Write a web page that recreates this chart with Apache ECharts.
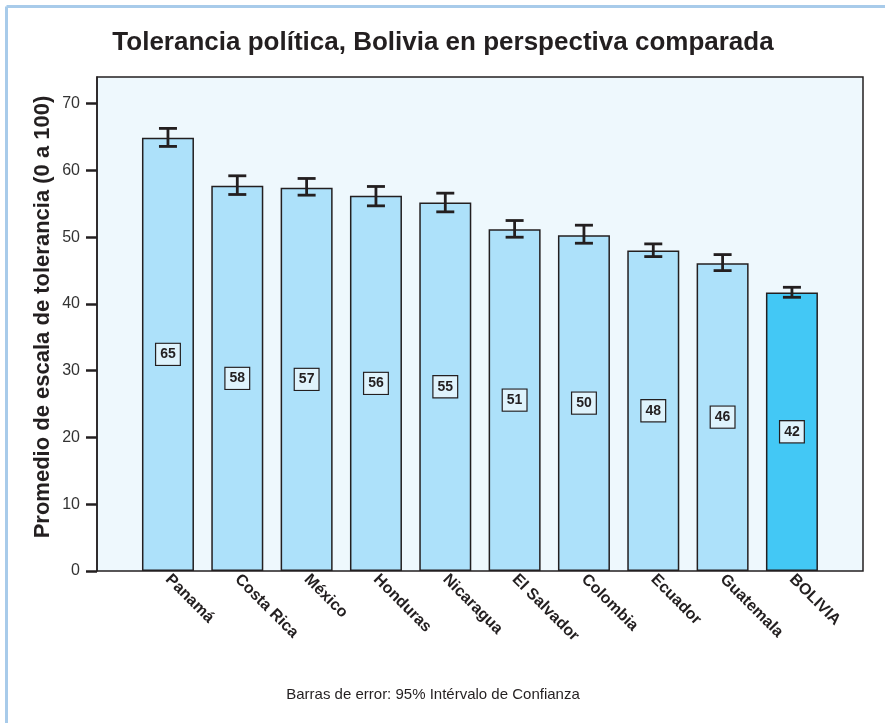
<!DOCTYPE html>
<html><head><meta charset="utf-8">
<script src="https://cdn.jsdelivr.net/npm/echarts@6/dist/echarts.min.js"></script>
<style>html,body{margin:0;padding:0;background:#fff}#c{width:885px;height:723px}</style>
</head><body><div id="c"></div>
<script>
const categories = ['Panamá','Costa Rica','México','Honduras','Nicaragua','El Salvador','Colombia','Ecuador','Guatemala','BOLIVIA'];
const means = [64.9, 57.7, 57.4, 56.2, 55.2, 51.2, 50.3, 48.0, 46.1, 41.7];
const labels = [65, 58, 57, 56, 55, 51, 50, 48, 46, 42];
const ciLow = [63.6, 56.4, 56.3, 54.7, 53.8, 50.0, 49.1, 47.1, 45.0, 41.0];
const ciHigh = [66.3, 59.2, 58.8, 57.6, 56.6, 52.5, 51.8, 49.0, 47.4, 42.5];
const yTicks = [0, 10, 20, 30, 40, 50, 60, 70];

const chart = echarts.init(document.getElementById('c'));
const F = 'Liberation Sans, Arial, sans-serif';
chart.setOption({
  animation: false,
  title: {
    text: 'Tolerancia política, Bolivia en perspectiva comparada',
    left: 438, textAlign: 'center', top: 25,
    textStyle: {fontFamily: F, fontSize: 26, fontWeight: 'bold', color: '#231f20'}
  },
  graphic: [
    {type: 'line', shape: {x1: 6.5, y1: 6.5, x2: 885, y2: 6.5}, style: {stroke: '#a8cbea', lineWidth: 3}},
    {type: 'line', shape: {x1: 6.5, y1: 6.5, x2: 6.5, y2: 723}, style: {stroke: '#a8cbea', lineWidth: 3}},
    {type: 'text', x: 433, y: 687,
      style: {text: 'Barras de error: 95% Intérvalo de Confianza', font: '15px ' + F, fill: '#231f20', textAlign: 'center'}},
  ],
  grid: [
    {left: 97, top: 77, width: 766, height: 494, show: true, backgroundColor: '#eef8fd', borderColor: '#231f20', borderWidth: 1.5},
    {left: 133.3, top: 77, width: 693.3, height: 494}
  ],
  xAxis: [
    {gridIndex: 0, type: 'category', data: [], show: false},
    {gridIndex: 1, type: 'category', data: categories,
      axisLine: {show: false}, axisTick: {show: false},
      axisLabel: {rotate: -45, margin: 6, fontFamily: F, fontSize: 16, fontWeight: 'bold', color: '#231f20', interval: 0}}
  ],
  yAxis: [
    {gridIndex: 0, type: 'value', min: 0, max: 74,
      name: 'Promedio de escala de tolerancia (0 a 100)', nameLocation: 'middle', nameGap: 43, nameRotate: 90,
      nameMoveOverlap: false,
      nameTextStyle: {fontFamily: F, fontSize: 22, fontWeight: 'bold', color: '#231f20', padding: [0, 0, 0, 14]},
      axisLine: {show: true, lineStyle: {color: '#231f20', width: 1.5}},
      axisTick: {show: true, inside: false, customValues: yTicks, length: 11, lineStyle: {color: '#231f20', width: 2.5}},
      axisLabel: {customValues: yTicks, fontFamily: F, fontSize: 16, color: '#333', margin: 17},
      splitLine: {show: false}},
    {gridIndex: 1, type: 'value', min: 0, max: 74, show: false, splitLine: {show: false}}
  ],
  series: [
    {type: 'bar', xAxisIndex: 1, yAxisIndex: 1, barWidth: 52,
      data: means.map((v, i) => ({value: v, itemStyle: {color: categories[i] === 'BOLIVIA' ? '#43c8f5' : '#ade1fa'}})),
      itemStyle: {borderColor: '#231f20', borderWidth: 1.5},
      label: {show: true, position: 'inside', formatter: p => String(labels[p.dataIndex]),
        fontFamily: F, fontSize: 14, fontWeight: 'bold', color: '#231f20',
        backgroundColor: '#dff3fc', borderColor: '#231f20', borderWidth: 1.2, padding: [4, 4, 3, 4]}},
    {type: 'custom', xAxisIndex: 1, yAxisIndex: 1, z: 5,
      data: categories.map((c, i) => [i, ciLow[i], ciHigh[i]]),
      renderItem: (params, api) => {
        const lo = api.coord([api.value(0), api.value(1)]);
        const hi = api.coord([api.value(0), api.value(2)]);
        const w = 9;
        const st = {stroke: '#231f20', lineWidth: 2.8};
        return {type: 'group', children: [
          {type: 'line', shape: {x1: lo[0], y1: lo[1], x2: hi[0], y2: hi[1]}, style: st},
          {type: 'line', shape: {x1: lo[0] - w, y1: lo[1], x2: lo[0] + w, y2: lo[1]}, style: st},
          {type: 'line', shape: {x1: hi[0] - w, y1: hi[1], x2: hi[0] + w, y2: hi[1]}, style: st}
        ]};
      }}
  ]
});
</script></body></html>
